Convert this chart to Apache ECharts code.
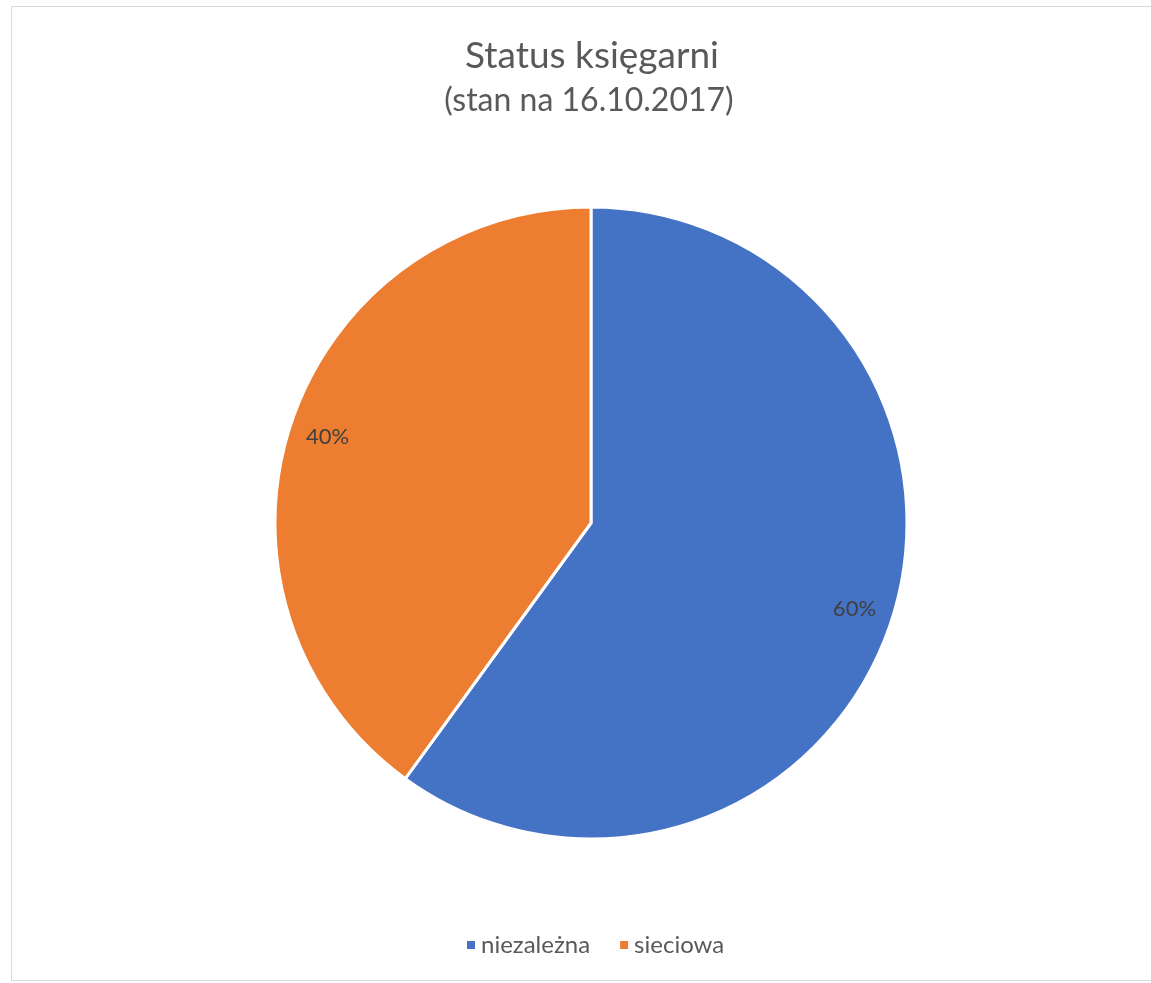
<!DOCTYPE html>
<html>
<head>
<meta charset="utf-8">
<script src="https://cdn.jsdelivr.net/npm/echarts@6/dist/echarts.min.js"></script>
<style>
html,body{margin:0;padding:0;background:#fff;overflow:hidden;}
#frame{position:absolute;left:11px;top:6px;width:1160px;height:975px;border:1.5px solid #d9d9d9;box-sizing:border-box;}
#chart{position:absolute;left:0;top:0;width:1151px;height:983px;}
</style>
</head>
<body>
<div id="frame"></div>
<div id="chart"></div>
<script>
const titleText = 'Status księgarni';
const subtitleText = '(stan na 16.10.2017)';
const categories = ['niezależna', 'sieciowa'];
const values = [60, 40];
const colors = ['#4472C4', '#ED7D31'];

const pieData = categories.map((c, i) => ({ name: c, value: values[i], itemStyle: { color: colors[i] } }));

const chart = echarts.init(document.getElementById('chart'), null, { renderer: 'canvas' });
const FONT = 'Lato, "Open Sans", sans-serif';
chart.setOption({
  backgroundColor: 'transparent',
  animation: false,
  title: [
    { text: titleText, left: 587, top: 33, textAlign: 'center',
      textStyle: { fontFamily: FONT, fontSize: 37, fontWeight: 'normal', color: '#595959' } },
    { text: subtitleText, left: 584, top: 80, textAlign: 'center',
      textStyle: { fontFamily: FONT, fontSize: 32, fontWeight: 'normal', color: '#595959' } }
  ],
  legend: {
    data: categories,
    bottom: 21,
    left: 460,
    icon: 'rect',
    itemWidth: 10,
    itemHeight: 10,
    itemGap: 28,
    textStyle: { fontFamily: FONT, fontSize: 24, color: '#595959' }
  },
  series: [
    {
      type: 'pie',
      center: [591, 523],
      radius: [0, 316],
      startAngle: 90,
      clockwise: true,
      data: pieData,
      label: { show: false },
      labelLine: { show: false },
      itemStyle: { borderColor: '#fff', borderWidth: 3 },
      emphasis: { disabled: true }
    },
    {
      type: 'pie',
      center: [591, 523],
      radius: [232, 316],
      startAngle: 90,
      clockwise: true,
      silent: true,
      data: pieData.map(d => ({ name: d.name, value: d.value, itemStyle: { color: 'rgba(0,0,0,0)' } })),
      label: {
        show: true,
        position: 'inside',
        formatter: '{d}%',
        fontFamily: FONT,
        fontSize: 22,
        color: '#404040'
      },
      labelLine: { show: false },
      itemStyle: { borderWidth: 0 },
      emphasis: { disabled: true }
    }
  ]
});
</script>
</body>
</html>
